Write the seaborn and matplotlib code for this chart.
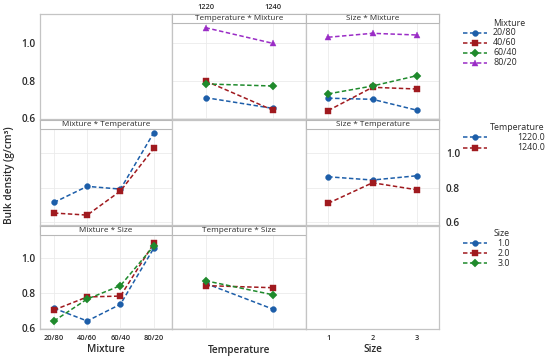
import numpy as np
import pandas as pd
import matplotlib
matplotlib.use("Agg")
import matplotlib.pyplot as plt
import seaborn as sns
from matplotlib.lines import Line2D
from matplotlib.patches import Rectangle

sns.set_theme(style="white")
plt.rcParams["font.family"] = ["Open Sans", "DejaVu Sans"]
plt.rcParams["lines.scale_dashes"] = False

# ---------------- data ----------------
mixtures = ["20/80", "40/60", "60/40", "80/20"]
temperatures = ["1220", "1240"]
temp_labels = ["1220.0", "1240.0"]
sizes = ["1", "2", "3"]
size_labels = ["1.0", "2.0", "3.0"]

# Temperature * Mixture (x = temperature, one list per mixture)
tm_20_80 = [0.710, 0.653]
tm_40_60 = [0.799, 0.644]
tm_60_40 = [0.783, 0.772]
tm_80_20 = [1.083, 1.000]

# Size * Mixture (x = size, one list per mixture)
sm_20_80 = [0.707, 0.701, 0.643]
sm_40_60 = [0.641, 0.765, 0.756]
sm_60_40 = [0.730, 0.772, 0.827]
sm_80_20 = [1.032, 1.053, 1.044]

# Mixture * Temperature (x = mixture, one list per temperature)
mt_1220 = [0.713, 0.807, 0.791, 1.120]
mt_1240 = [0.651, 0.639, 0.780, 1.029]

# Size * Temperature (x = size, one list per temperature)
st_1220 = [0.863, 0.844, 0.869]
st_1240 = [0.708, 0.828, 0.787]

# Mixture * Size (x = mixture, one list per size)
ms_1 = [0.713, 0.640, 0.736, 1.057]
ms_2 = [0.703, 0.778, 0.783, 1.085]
ms_3 = [0.640, 0.766, 0.843, 1.070]

# Temperature * Size (x = temperature, one list per size)
ts_1 = [0.856, 0.709]
ts_2 = [0.843, 0.831]
ts_3 = [0.871, 0.791]

# ---------------- style ----------------
BLUE, RED, GREEN, PURPLE = "#1d5ea9", "#a01a1f", "#1f8a2c", "#9a2cc6"
mix_colors = [BLUE, RED, GREEN, PURPLE]
mix_markers = ["o", "s", "D", "^"]
temp_colors = [BLUE, RED]
temp_markers = ["o", "s"]
size_colors = [BLUE, RED, GREEN]
size_markers = ["o", "s", "D"]
DASH = (3.2, 1.8)
LW = 1.1
MS = 4.2
FRAME = "#c4c4c4"
TXT = "#2a2a2a"
YTICK_FS = 7.2
XTICK_FS = 5.3
STRIP_FS = 5.9
LEG_FS = 6.4
XLAB_FS = 7.2


def long_df(xcats, groups, series):
    rows = []
    for g, vals in zip(groups, series):
        for x, v in zip(xcats, vals):
            rows.append({"x": x, "g": g, "y": v})
    return pd.DataFrame(rows)


W, H = 550, 359
fig = plt.figure(figsize=(W / 100, H / 100), dpi=100)

cols = [(40, 172), (172, 306), (306, 439)]
rows = [(14, 119), (120, 224.5), (225.5, 329)]
ylims = [(0.596, 1.156), (0.584, 1.195), (0.594, 1.188)]
xlims = [(-0.42, 3.55), (-0.5, 1.5), (-0.5, 2.5)]


def fx(x):
    return x / W


def fy(y):
    return 1 - y / H


def add_ax(r, c):
    x0, x1 = cols[c]
    y0, y1 = rows[r]
    ax = fig.add_axes([x0 / W, 1 - y1 / H, (x1 - x0) / W, (y1 - y0) / H])
    ax.set_facecolor("white")
    for s in ax.spines.values():
        s.set_color(FRAME)
        s.set_linewidth(0.9)
    ax.set_ylim(*ylims[r])
    ax.set_xlim(*xlims[c])
    ax.set_yticks([0.6, 0.8, 1.0])
    ax.tick_params(length=0, labelleft=False, labelbottom=False,
                   labelright=False, labeltop=False)
    return ax


def strip(ax, r, title):
    h = rows[r][1] - rows[r][0]
    f = 9.0 / h
    ax.add_patch(Rectangle((0, 1 - f), 1, f, transform=ax.transAxes,
                           facecolor="white", edgecolor="#b8b8b8", lw=0.8,
                           zorder=6, clip_on=False))
    ax.text(0.5, 1 - f / 2 - 0.004, title, transform=ax.transAxes, ha="center",
            va="center", fontsize=STRIP_FS, color=TXT, zorder=7)


def panel(r, c, df, order, hue_order, colors, markers, title):
    ax = add_ax(r, c)
    sns.pointplot(data=df, x="x", y="y", hue="g", order=order,
                  hue_order=hue_order, palette=colors, markers=markers,
                  linestyles="--", errorbar=None, legend=False, ax=ax,
                  markersize=MS, linewidth=LW)
    for ln in ax.lines:
        ln.set_dashes(DASH)
        ln.set_markeredgewidth(0.3)
    ax.set_xlim(*xlims[c])
    ax.set_ylim(*ylims[r])
    ax.set_xlabel("")
    ax.set_ylabel("")
    ax.grid(True, color="#ebebeb", lw=0.6)
    ax.set_axisbelow(True)
    strip(ax, r, title)
    return ax


# Row 0
ax00 = add_ax(0, 0)
ax00.tick_params(labelleft=True, labelsize=YTICK_FS, labelcolor=TXT, pad=3)
ax00.set_yticklabels(["0.6", "0.8", "1.0"], fontweight="semibold")

ax01 = panel(0, 1, long_df(temperatures, mixtures, [tm_20_80, tm_40_60, tm_60_40, tm_80_20]),
             temperatures, mixtures, mix_colors, mix_markers, "Temperature * Mixture")
ax01.xaxis.tick_top()
ax01.tick_params(labeltop=True, labelbottom=False, labelsize=XTICK_FS, labelcolor=TXT, pad=2.5)
ax01.set_xticklabels(temperatures, fontweight="semibold")

ax02 = panel(0, 2, long_df(sizes, mixtures, [sm_20_80, sm_40_60, sm_60_40, sm_80_20]),
             sizes, mixtures, mix_colors, mix_markers, "Size * Mixture")

# Row 1
ax10 = panel(1, 0, long_df(mixtures, temperatures, [mt_1220, mt_1240]),
             mixtures, temperatures, temp_colors, temp_markers, "Mixture * Temperature")
ax11 = add_ax(1, 1)
ax12 = panel(1, 2, long_df(sizes, temperatures, [st_1220, st_1240]),
             sizes, temperatures, temp_colors, temp_markers, "Size * Temperature")
ax12.yaxis.tick_right()
ax12.tick_params(labelright=True, labelsize=YTICK_FS, labelcolor=TXT, pad=5)
ax12.set_yticklabels(["0.6", "0.8", "1.0"], fontweight="semibold")

# Row 2
ax20 = panel(2, 0, long_df(mixtures, sizes, [ms_1, ms_2, ms_3]),
             mixtures, sizes, size_colors, size_markers, "Mixture * Size")
ax20.tick_params(labelleft=True, labelbottom=True, labelsize=YTICK_FS, labelcolor=TXT, pad=3)
ax20.set_yticklabels(["0.6", "0.8", "1.0"], fontweight="semibold")
ax20.tick_params(axis="x", labelsize=XTICK_FS, pad=4)
ax20.set_xticklabels(mixtures, fontweight="semibold")

ax21 = panel(2, 1, long_df(temperatures, sizes, [ts_1, ts_2, ts_3]),
             temperatures, sizes, size_colors, size_markers, "Temperature * Size")

ax22 = add_ax(2, 2)
ax22.set_xticks(range(len(sizes)))
ax22.set_xticklabels(sizes, fontweight="semibold")
ax22.tick_params(labelbottom=True, labelsize=XTICK_FS, labelcolor=TXT, pad=4)

# axis titles
for name, (x0, x1) in zip(["Mixture", "Temperature", "Size"], cols):
    fig.text(fx((x0 + x1) / 2), fy(350), name, ha="center", va="center",
             fontsize=XLAB_FS, color=TXT, fontweight="semibold")

fig.text(fx(10), fy(175), "Bulk density (g/cm³)", rotation=90, ha="center",
         va="center", fontsize=7.3, color=TXT, fontweight="semibold")


# ---------------- legends ----------------
def legend(title, labels, colors, markers, title_y, ys, text_x, ha):
    fig.text(fx(text_x), fy(title_y), title, ha=ha, va="center", fontsize=LEG_FS, color=TXT)
    for lab, col, mk, y in zip(labels, colors, markers, ys):
        fig.add_artist(Line2D([fx(463), fx(487)], [fy(y), fy(y)], transform=fig.transFigure,
                              color=col, lw=LW, dashes=DASH))
        fig.add_artist(Line2D([fx(475)], [fy(y)], transform=fig.transFigure, color=col,
                              marker=mk, markersize=MS, markeredgewidth=0.3, lw=0))
        fig.text(fx(text_x), fy(y), lab, ha=ha, va="center", fontsize=LEG_FS, color=TXT)


legend("Mixture", mixtures, mix_colors, mix_markers, 23, [32.7, 42.7, 52.7, 62.7], 493, "left")
legend("Temperature", temp_labels, temp_colors, temp_markers, 127, [137.3, 147.7], 545, "right")
legend("Size", size_labels, size_colors, size_markers, 233, [243, 253, 263], 510, "right")

fig.savefig("out.png", dpi=100)
